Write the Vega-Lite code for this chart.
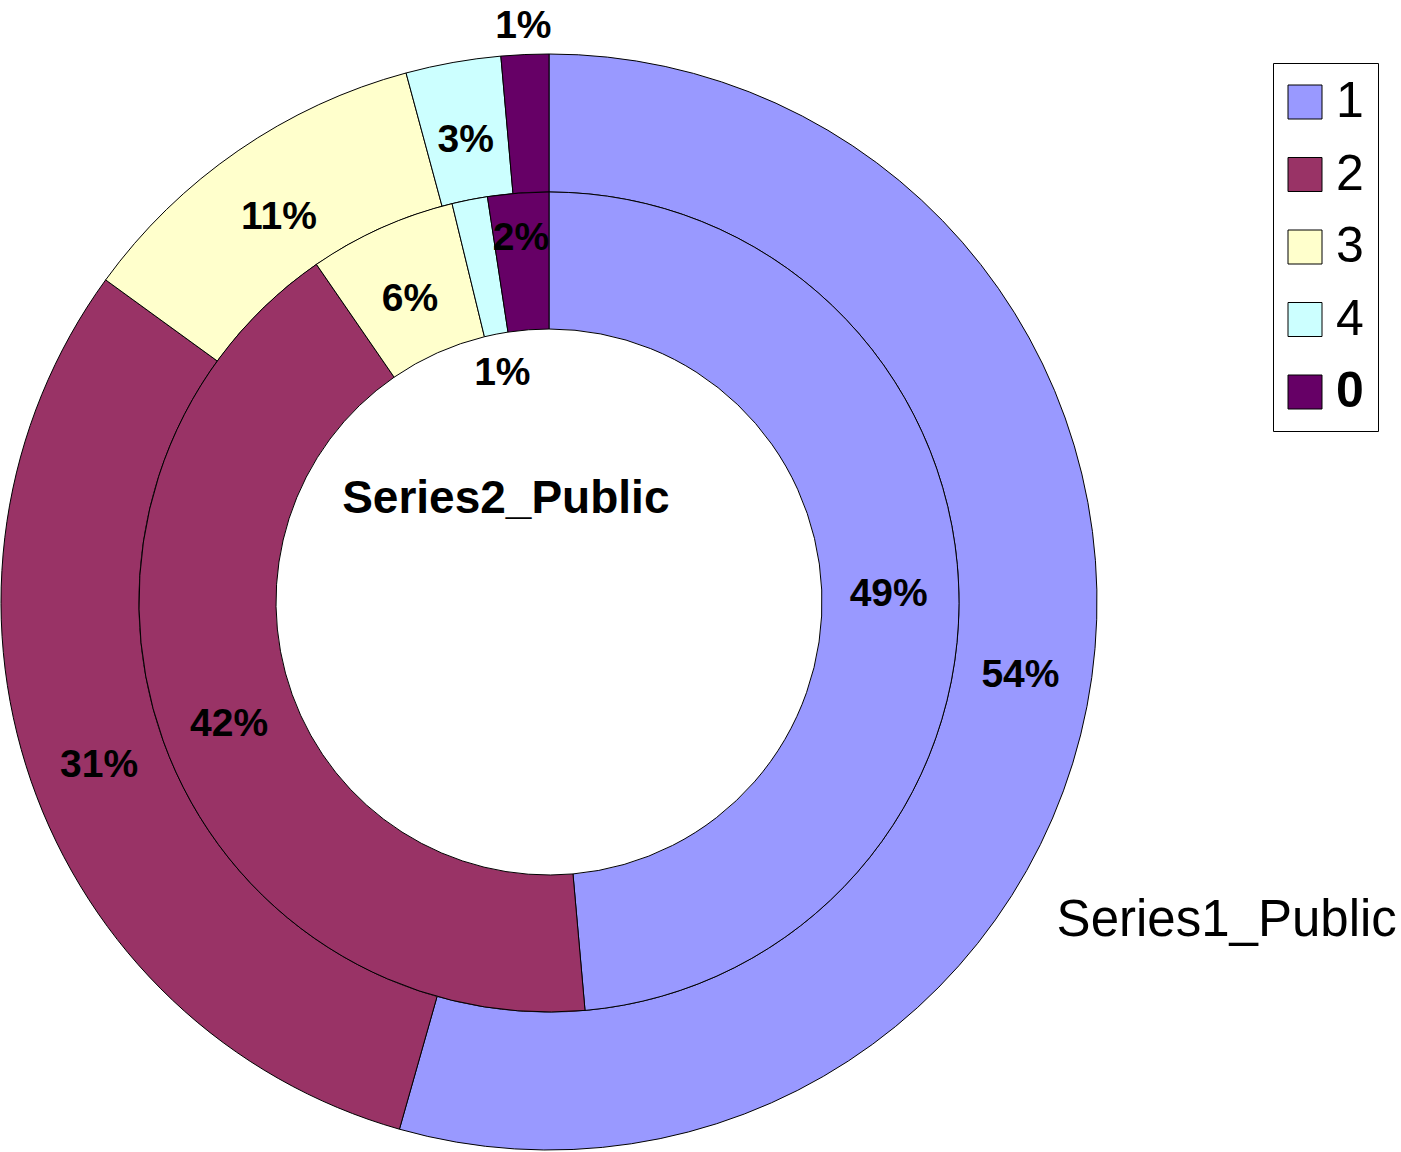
{
  "$schema": "https://vega.github.io/schema/vega-lite/v6.json",
  "width": 1098,
  "height": 1100,
  "autosize": {"type": "none"},
  "padding": {"left": 0, "top": 52, "right": 303, "bottom": 0},
  "background": "white",
  "config": {"view": {"stroke": null}, "font": "Liberation Sans"},
  "data": {
    "values": [
      {"series": "Series1_Public", "category": "1", "idx": 1, "share": 0.544},
      {"series": "Series1_Public", "category": "2", "idx": 2, "share": 0.306},
      {"series": "Series1_Public", "category": "3", "idx": 3, "share": 0.108},
      {"series": "Series1_Public", "category": "4", "idx": 4, "share": 0.028},
      {"series": "Series1_Public", "category": "0", "idx": 5, "share": 0.014},
      {"series": "Series2_Public", "category": "1", "idx": 1, "share": 0.486},
      {"series": "Series2_Public", "category": "2", "idx": 2, "share": 0.418},
      {"series": "Series2_Public", "category": "3", "idx": 3, "share": 0.058},
      {"series": "Series2_Public", "category": "4", "idx": 4, "share": 0.014},
      {"series": "Series2_Public", "category": "0", "idx": 5, "share": 0.024}
    ]
  },
  "layer": [
    {
      "transform": [{"filter": "datum.series === 'Series1_Public'"}],
      "mark": {"type": "arc", "outerRadius": 548, "innerRadius": 410, "stroke": "black", "strokeWidth": 1},
      "encoding": {
        "theta": {"field": "share", "type": "quantitative", "stack": true},
        "order": {"field": "idx", "type": "quantitative"},
        "color": {
          "field": "category", "type": "nominal",
          "scale": {"domain": ["1", "2", "3", "4", "0"], "range": ["#9999FF", "#993366", "#FFFFCC", "#CCFFFF", "#660066"]},
          "legend": {
            "title": null, "orient": "none", "legendX": 1273, "legendY": 11,
            "symbolType": "square", "symbolSize": 1156, "symbolStrokeColor": "black", "symbolStrokeWidth": 1, "symbolOpacity": 1,
            "symbolOffset": -7,
            "labelFont": "Liberation Sans", "labelFontSize": 50, "labelColor": "black", "labelOffset": 6,
            "rowPadding": 22.5, "padding": 14, "strokeColor": "black", "fillColor": "white",
            "encode": {"labels": {"update": {"fontWeight": {"signal": "datum.label === '0' ? 'bold' : 'normal'"}}}}
          }
        }
      }
    },
    {
      "transform": [{"filter": "datum.series === 'Series2_Public'"}],
      "mark": {"type": "arc", "outerRadius": 410, "innerRadius": 273, "stroke": "black", "strokeWidth": 1},
      "encoding": {
        "theta": {"field": "share", "type": "quantitative", "stack": true},
        "order": {"field": "idx", "type": "quantitative"},
        "color": {
          "field": "category", "type": "nominal",
          "scale": {"domain": ["1", "2", "3", "4", "0"], "range": ["#9999FF", "#993366", "#FFFFCC", "#CCFFFF", "#660066"]}
        }
      }
    },
    {
      "transform": [{"filter": "datum.series === 'Series1_Public'"}],
      "mark": {"type": "text", "font": "Liberation Sans", "fontSize": 39, "fontWeight": "bold", "fill": "black", "dy": 7},
      "encoding": {
        "theta": {"field": "share", "type": "quantitative", "stack": true},
        "order": {"field": "idx", "type": "quantitative"},
        "detail": {"field": "category", "type": "nominal"},
        "radius": {"value": 476},
        "text": {"condition": {"test": "datum.category === '0'", "value": ""}, "field": "share", "type": "quantitative", "format": ".0%"}
      }
    },
    {
      "transform": [{"filter": "datum.series === 'Series1_Public'"}],
      "mark": {"type": "text", "font": "Liberation Sans", "fontSize": 39, "fontWeight": "bold", "fill": "black", "dy": 7},
      "encoding": {
        "theta": {"field": "share", "type": "quantitative", "stack": true},
        "order": {"field": "idx", "type": "quantitative"},
        "detail": {"field": "category", "type": "nominal"},
        "radius": {"value": 584},
        "text": {"condition": {"test": "datum.category !== '0'", "value": ""}, "field": "share", "type": "quantitative", "format": ".0%"}
      }
    },
    {
      "transform": [{"filter": "datum.series === 'Series2_Public'"}],
      "mark": {"type": "text", "font": "Liberation Sans", "fontSize": 39, "fontWeight": "bold", "fill": "black", "dy": 7},
      "encoding": {
        "theta": {"field": "share", "type": "quantitative", "stack": true},
        "order": {"field": "idx", "type": "quantitative"},
        "detail": {"field": "category", "type": "nominal"},
        "radius": {"value": 340},
        "text": {"condition": {"test": "datum.category === '0' || datum.category === '4'", "value": ""}, "field": "share", "type": "quantitative", "format": ".0%"}
      }
    },
    {
      "transform": [{"filter": "datum.series === 'Series2_Public'"}],
      "mark": {"type": "text", "font": "Liberation Sans", "fontSize": 39, "fontWeight": "bold", "fill": "black", "dy": 7},
      "encoding": {
        "theta": {"field": "share", "type": "quantitative", "stack": true},
        "order": {"field": "idx", "type": "quantitative"},
        "detail": {"field": "category", "type": "nominal"},
        "radius": {"value": 241},
        "text": {"condition": {"test": "datum.category !== '4'", "value": ""}, "field": "share", "type": "quantitative", "format": ".0%"}
      }
    },
    {
      "transform": [{"filter": "datum.series === 'Series2_Public'"}],
      "mark": {"type": "text", "font": "Liberation Sans", "fontSize": 39, "fontWeight": "bold", "fill": "black", "dy": 7},
      "encoding": {
        "theta": {"field": "share", "type": "quantitative", "stack": true},
        "order": {"field": "idx", "type": "quantitative"},
        "detail": {"field": "category", "type": "nominal"},
        "radius": {"value": 372},
        "text": {"condition": {"test": "datum.category !== '0'", "value": ""}, "field": "share", "type": "quantitative", "format": ".0%"}
      }
    },
    {
      "data": {"values": [{"label": "Series2_Public"}]},
      "mark": {"type": "text", "font": "Liberation Sans", "fontSize": 46, "fontWeight": "bold", "fill": "black"},
      "encoding": {
        "theta": {"datum": 0.937, "type": "quantitative"},
        "radius": {"value": 112},
        "text": {"field": "label", "type": "nominal"}
      }
    },
    {
      "data": {"values": [{"label": "Series1_Public"}]},
      "mark": {"type": "text", "font": "Liberation Sans", "fontSize": 51, "fill": "black"},
      "encoding": {
        "theta": {"datum": 0.320, "type": "quantitative"},
        "radius": {"value": 749},
        "text": {"field": "label", "type": "nominal"}
      }
    }
  ]
}
